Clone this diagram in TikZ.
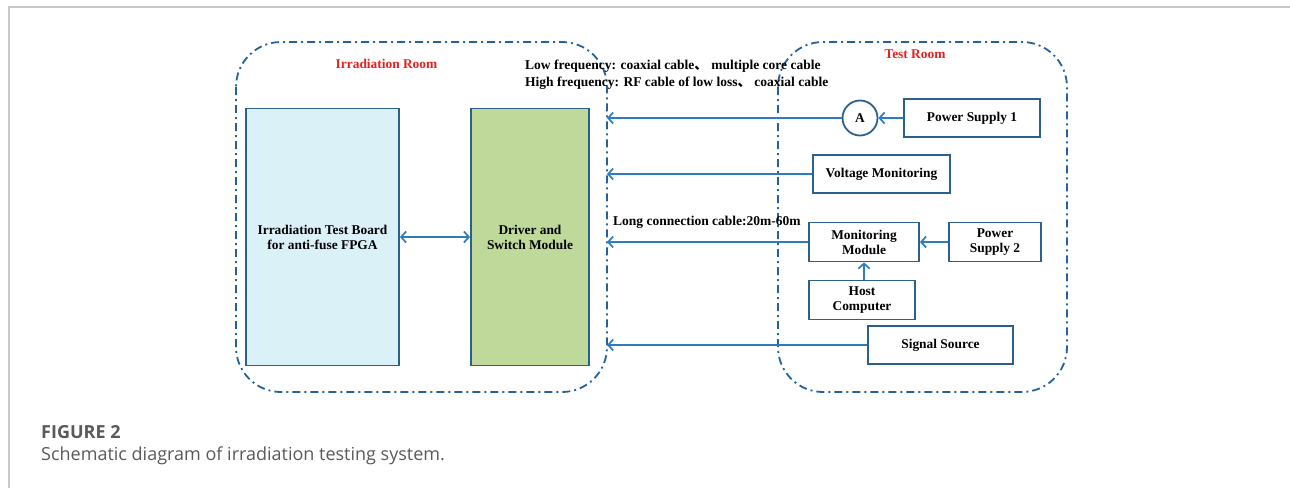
\documentclass[tikz,border=0pt]{standalone}
\usepackage{fontspec}
\setmainfont{Liberation Serif}
\newfontfamily\capfont{Open Sans}
\newfontfamily\cjk{Noto Sans CJK SC}
\usetikzlibrary{arrows.meta}
\definecolor{roomblue}{HTML}{23629A}
\definecolor{boxblue}{HTML}{2B5F8E}
\definecolor{arrowblue}{HTML}{2D7CC1}
\definecolor{boardfill}{HTML}{DBF1F8}
\definecolor{driverfill}{HTML}{BFD99B}
\definecolor{roomred}{HTML}{E8201E}
\definecolor{framegray}{HTML}{C8C8C8}
\definecolor{capgray}{HTML}{595959}
\tikzset{
  room/.style={draw=roomblue, line width=1.8pt, dash pattern=on 8pt off 4pt on 2pt off 4pt, rounded corners=45pt},
  blk/.style={draw=boxblue, line width=1.8pt, rectangle, align=center, font=\fontsize{13.4}{15}\selectfont\bfseries, inner sep=0pt},
  conn/.style={draw=arrowblue, line width=1.7pt, -{Straight Barb[length=5pt,width=11pt,line width=1.7pt]}},
  dconn/.style={draw=arrowblue, line width=1.7pt, {Straight Barb[length=5pt,width=11pt,line width=1.7pt]}-{Straight Barb[length=5pt,width=11pt,line width=1.7pt]}},
  roomlbl/.style={text=roomred, font=\fontsize{13.4}{15}\selectfont\bfseries},
  note/.style={font=\fontsize{13.5}{16}\selectfont\bfseries, anchor=west, inner sep=0pt, align=left}
}
\begin{document}
\begin{tikzpicture}[x=1pt,y=-1pt]
\useasboundingbox (0,0) rectangle (1290,488);
% frame
\draw[framegray, line width=1.3pt] (9,488) -- (9,7) -- (1290,7);
% rooms
\draw[room] (236,42) rectangle (607,392);
\draw[room] (778,42) rectangle (1067,392);
\node[roomlbl] (irl) at (386.5,64) {Irradiation Room};
\node[roomlbl] (trl) at (915,54) {Test Room};
% notes
\node[note] (n1) at (525,66) {Low frequency: coaxial cable{\cjk 、} multiple core cable};
\node[note] (n2) at (525,83) {High frequency: RF cable of low loss{\cjk 、} coaxial cable};
\node[note] (n3) at (613,222) {Long connection cable:20m-60m};
% blocks
\node[blk, fill=boardfill, minimum width=153pt, minimum height=257pt] (board) at (322.5,237) {Irradiation Test Board\\for anti-fuse FPGA};
\node[blk, fill=driverfill, minimum width=118pt, minimum height=257pt] (driver) at (530,237) {Driver and\\Switch Module};
\node[blk, fill=white, circle, minimum size=35pt] (amp) at (860,118) {A};
\node[blk, fill=white, minimum width=136pt, minimum height=38pt] (ps1) at (972,118) {Power Supply 1};
\node[blk, fill=white, minimum width=137pt, minimum height=38pt] (vm) at (881.5,174) {Voltage Monitoring};
\node[blk, fill=white, minimum width=110pt, minimum height=39pt] (mm) at (864,242) {Monitoring\\Module};
\node[blk, fill=white, minimum width=92pt, minimum height=39pt] (ps2) at (995,242) {Power\\Supply 2};
\node[blk, fill=white, minimum width=106pt, minimum height=39pt] (host) at (862,300) {Host\\Computer};
\node[blk, fill=white, minimum width=145pt, minimum height=38pt] (sig) at (940.5,345) {Signal Source};
% arrow end points on the irradiation room boundary
\coordinate (t1) at (607,118);
\coordinate (t2) at (607,174);
\coordinate (t3) at (607,242);
\coordinate (t4) at (607,345);
% connectors
\draw[dconn] (board.east) -- (driver.west);
\draw[conn] (ps1.west) -- (amp.east);
\draw[conn] (amp.west) -- (t1);
\draw[conn] (vm.west) -- (t2);
\draw[conn] (mm.west) -- (t3);
\draw[conn] (ps2.west) -- (mm.east);
\draw[conn] (host.north -| mm.south) -- (mm.south);
\draw[conn] (sig.west) -- (t4);
% caption
\node[anchor=west, inner sep=0pt, text=capgray, font=\capfont\fontsize{18}{20}\selectfont\bfseries] (cap1) at (41,432) {FIGURE 2};
\node[anchor=west, inner sep=0pt, text=capgray, font=\capfont\fontsize{18}{20}\selectfont] (cap2) at (41,456) {Schematic diagram of irradiation testing system.};
\end{tikzpicture}
\end{document}
